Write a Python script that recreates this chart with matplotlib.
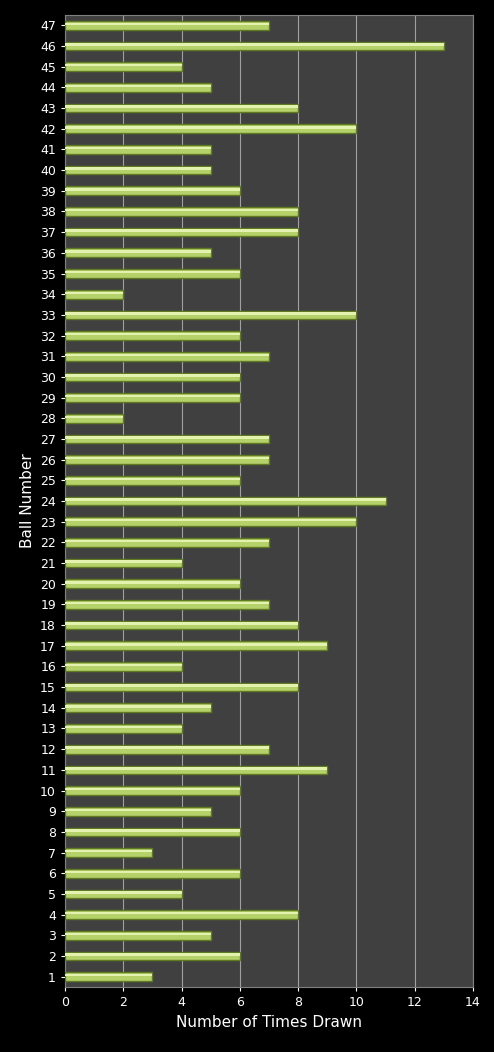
import matplotlib
matplotlib.use("Agg")
import matplotlib.pyplot as plt
import numpy as np

balls = list(range(1, 48))
counts = [3,6,5,8,4,6,3,6,5,6,9,7,4,5,8,4,9,8,7,6,4,7,10,11,6,7,7,2,6,6,7,6,10,2,6,5,8,8,6,5,5,10,8,5,4,13,7]
xticks = [0,2,4,6,8,10,12,14]

fig = plt.figure(figsize=(4.94,10.52), dpi=100, facecolor='black')
ax = fig.add_axes([65/494, 1-987/1052, 408/494, 972/1052])
ax.set_facecolor('#404040')
y = np.arange(len(balls))
ax.barh(y, counts, height=0.42, color='#b5d16a', edgecolor='#5f7a22', linewidth=1, zorder=3)
ax.barh(y+0.07, counts, height=0.12, color='#e4f2b0', linewidth=0, zorder=4)
ax.set_xlim(0,14)
ax.set_ylim(-0.5, len(balls)-0.5)
ax.set_xticks(xticks)
ax.set_yticks(y)
ax.set_yticklabels([str(b) for b in balls])
ax.xaxis.grid(True, color='#a0a0a0', linewidth=0.8, zorder=0)
ax.tick_params(colors='white', labelsize=9, length=3)
for s in ax.spines.values():
    s.set_color('#808080')
ax.set_xlabel('Number of Times Drawn', color='white', fontsize=11)
ax.set_ylabel('Ball Number', color='white', fontsize=11)
fig.savefig('out.png', dpi=100, facecolor='black')
